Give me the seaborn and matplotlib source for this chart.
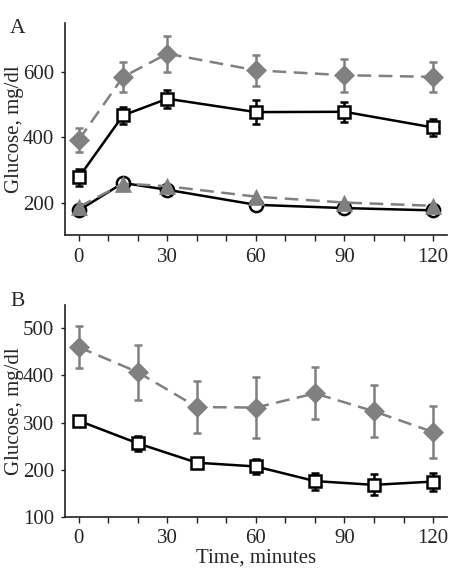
import numpy as np
import pandas as pd
import matplotlib
matplotlib.use("Agg")
import matplotlib.pyplot as plt
import seaborn as sns

# panel A: oral glucose tolerance, 0-120 min
time_a = [0, 15, 30, 60, 90, 120]
diamond_a = [392, 585, 656, 605, 590, 585]
diamond_a_err = [37, 47, 55, 47, 50, 46]
square_a = [277, 467, 518, 477, 478, 430]
square_a_err = [27, 26, 28, 37, 30, 25]
circle_a = [176, 260, 239, 193, 183, 176]
triangle_a = [186, 258, 250, 218, 200, 190]

# panel B
time_b = [0, 20, 40, 60, 80, 100, 120]
diamond_b = [460, 407, 333, 332, 362, 324, 280]
diamond_b_err = [44, 58, 55, 65, 55, 55, 55]
square_b = [304, 256, 215, 207, 176, 168, 175]
square_b_err = [11, 16, 11, 15, 18, 22, 19]

sns.set_theme(style="ticks")
plt.rcParams['font.family'] = ['Liberation Serif', 'DejaVu Serif']
plt.rcParams['font.size'] = 15

GRAY = "#808080"

fig = plt.figure(figsize=(4.67, 5.75), dpi=100)
axA = fig.add_axes([0.139, 0.591, 0.818, 0.369])
axB = fig.add_axes([0.139, 0.101, 0.818, 0.369])


def series(ax, x, y, err, color, marker, ms, dashed, filled):
    df = pd.DataFrame({'t': x, 'g': y})
    if err is not None:
        ax.errorbar(x, y, yerr=err, fmt='none', ecolor=color,
                    elinewidth=1.8, capsize=3, capthick=1.8, zorder=2)
    sns.lineplot(data=df, x='t', y='g', ax=ax, color=color,
                 linewidth=1.8, marker=marker, markersize=ms,
                 markerfacecolor=color if filled else 'white',
                 markeredgecolor=color, markeredgewidth=1.8 if not filled else 0.5,
                 dashes=(5.5, 3) if dashed else "", zorder=3)


series(axA, time_a, circle_a, None, 'black', 'o', 9.5, False, False)
series(axA, time_a, triangle_a, None, GRAY, '^', 11, True, True)
series(axA, time_a, square_a, square_a_err, 'black', 's', 8.5, False, False)
series(axA, time_a, diamond_a, diamond_a_err, GRAY, 'D', 10, True, True)

series(axB, time_b, square_b, square_b_err, 'black', 's', 8.5, False, False)
series(axB, time_b, diamond_b, diamond_b_err, GRAY, 'D', 10, True, True)

for ax, ylim, yt in [(axA, (100, 750), [200, 400, 600]),
                     (axB, (100, 550), [100, 200, 300, 400, 500])]:
    ax.set_xlim(-4.7, 124.7)
    ax.set_ylim(*ylim)
    ax.set_yticks(yt)
    ax.set_xticks([0, 30, 60, 90, 120])
    ax.set_xticks(np.arange(0, 121, 10), minor=True)
    ax.tick_params(axis='x', which='both', direction='out', length=4,
                   width=1, color='#222222', pad=5, labelsize=15)
    ax.tick_params(axis='y', direction='out', length=3, width=1,
                   color='#222222', pad=5, labelsize=15)
    sns.despine(ax=ax)
    for s in ['left', 'bottom']:
        ax.spines[s].set_color('#222222')
        ax.spines[s].set_linewidth(1.2)
    ax.set_ylabel('Glucose, mg/dl', fontsize=15)
    ax.yaxis.set_label_coords(-0.108, 0.5)
    ax.set_xlabel('')

axB.set_xlabel('Time, minutes', fontsize=15, labelpad=0)

fig.text(0.022, 0.950, 'A', fontsize=15.5, va='center', ha='left')
fig.text(0.022, 0.475, 'B', fontsize=15.5, va='center', ha='left')

fig.savefig('out.png', dpi=100, facecolor='white')
